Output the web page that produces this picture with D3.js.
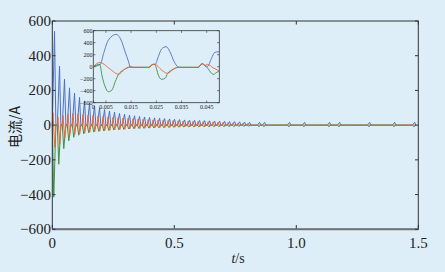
<!DOCTYPE html>
<html lang="zh">
<head>
<meta charset="UTF-8">
<title>电流</title>
<script src="https://d3js.org/d3.v7.min.js"></script>
<style>
    body { margin: 0; background: #ddeef9; }
    svg { display: block; background: #ddeef9; }
</style>
</head>
<body>
<script>
    // main chart: one pulse every `period` seconds, extreme values per pulse
    const period = 0.0205;
    const blueMax = [540,340,265,215,185,160,140,125,112,100,90,82,75,68,63,58,54,50,47,44,
        42,40,38,36,34,32,30,29,28,27,26,25,24,23,22,21,20,19,18,16,
        0,16,16,0,0,0,0,16,0,0,16,0,0,0,0,16,0,16,0,0,0,0,0,16,0,0,0,0,16,0,0,0,16];
    const greenMin = [-415,-225,-135,-90,-70,-58,-50,-44,-40,-36,-33,-30,-28,-26,-24,-22,-20,-19,-18,-17,
        -16,-15,-14,-13,-12,-12,-11,-11,-10,-10,-9,-9,-8,-8,-8,-7,-7,-6,-6,-5,
        0,-8,-8,0,0,0,0,-8,0,0,-8,0,0,0,0,-8,0,-8,0,0,0,0,0,-8,0,0,0,0,-8,0,0,0,-8];
    const orangeUp = [72,45,55,65,68,66,62,58,55,52,50,47,45,43,41,39,37,35,33,31,
        30,29,28,27,26,25,24,23,22,21,20,19,18,17,16,15,14,13,12,11,
        0,0,0,0,0,0,0,0,0,0,0,0,0,0,0,0,0,0,0,0,0,0,0,0,0,0,0,0,0,0,0,0,0];
    const orangeDown = [-128,-111,-75,-60,-52,-48,-44,-40,-37,-34,-32,-30,-28,-26,-24,-22,-20,-19,-18,-17,
        -16,-15,-14,-13,-12,-11,-10,-10,-9,-9,-8,-8,-7,-7,-6,-6,-5,-5,-4,-4,
        0,0,0,0,0,0,0,0,0,0,0,0,0,0,0,0,0,0,0,0,0,0,0,0,0,0,0,0,0,0,0,0,0];

    // inset: first 0.05 s, [t, value]
    const insetBlue = [[0,0],[0.0028,39],[0.0041,222],[0.006,444],[0.0091,539],[0.0113,417],[0.0126,250],
        [0.014,83],[0.0146,0],[0.016,-11],[0.0219,-11],[0.0238,40],[0.0245,39],[0.0258,167],[0.0271,294],
        [0.0289,333],[0.0304,250],[0.0321,83],[0.0335,0],[0.0345,-11],[0.0416,-11],[0.0432,50],[0.0443,20],
        [0.0453,5],[0.0469,139],[0.0482,239],[0.05,250]];
    const insetGreen = [[0,0],[0.0026,40],[0.0034,-139],[0.0047,-333],[0.006,-417],[0.0074,-389],[0.0087,-250],
        [0.010,-128],[0.012,-56],[0.0146,-5],[0.016,-11],[0.0219,-11],[0.0238,40],[0.0245,30],[0.0258,-139],
        [0.0271,-211],[0.0285,-194],[0.0295,-111],[0.0317,-44],[0.0337,-11],[0.0416,-11],[0.0432,50],
        [0.0443,20],[0.0453,-20],[0.0469,-110],[0.0476,-128],[0.0495,-83],[0.05,-80]];
    const insetOrange = [[0,0],[0.0026,72],[0.006,-17],[0.008,-83],[0.010,-128],[0.012,-56],[0.0146,-5],
        [0.016,-11],[0.0219,-11],[0.0238,40],[0.0245,39],[0.0271,-56],[0.0295,-111],[0.0317,-44],
        [0.0337,-11],[0.0416,-11],[0.0432,50],[0.0443,20],[0.0453,39],[0.0476,-20],[0.05,-72]];

    const yTicks = [600, 400, 200, 0, -200, -400, -600];
    const xTicks = [0, 0.5, 1.0, 1.5];
    const xTickLabels = ["0", "0.5", "1.0", "1.5"];
    const insetXTicks = [0, 0.005, 0.015, 0.025, 0.035, 0.045];
    const insetXTickLabels = ["0", "0.005", "0.015", "0.025", "0.035", "0.045"];

    const colors = { blue: "#4d6fc4", green: "#3e8f40", orange: "#e8693a" };
    const serif = "Liberation Serif";

    const width = 445, height = 272;
    const svg = d3.select("body").append("svg").attr("width", width).attr("height", height);

    const x = d3.scaleLinear().domain([0, 1.5]).range([52.3, 418.3]);
    const y = d3.scaleLinear().domain([-600, 600]).range([229.3, 21]);

    // build pulse points from the per-pulse extremes
    function pulsePoints(vals, offsets) {
        const pts = [];
        vals.forEach((v, k) => {
            const s = k * period;
            pts.push([s, 0]);
            v.forEach((val, j) => pts.push([s + offsets[j], val]));
            pts.push([s + 0.0146, 0]);
        });
        return pts;
    }
    const n = blueMax.length;
    const blueMain = pulsePoints(d3.range(n).map(k => [blueMax[k]]), [0.0091]);
    const greenMain = pulsePoints(d3.range(n).map(k => [greenMin[k]]), [0.006]);
    const orangeMain = pulsePoints(d3.range(n).map(k => [orangeUp[k], orangeDown[k]]), [0.0028, 0.010]);

    const line = d3.line().x(d => x(d[0])).y(d => y(d[1]));
    const main = svg.append("g");
    [[blueMain, colors.blue], [greenMain, colors.green], [orangeMain, colors.orange]].forEach(([d, c]) => {
        main.append("path").datum(d.filter(p => p[0] <= 1.5))
            .attr("d", line).attr("fill", "none").attr("stroke", c).attr("stroke-width", 1);
    });

    // frame
    svg.append("rect").attr("x", 52.3).attr("y", 21).attr("width", 366).attr("height", 208.3)
        .attr("fill", "none").attr("stroke", "#333").attr("stroke-width", 1);
    svg.append("line").attr("x1", 52.3).attr("x2", 418.3).attr("y1", 229.3).attr("y2", 229.3)
        .attr("stroke", "#6e7378").attr("stroke-width", 2);

    // ticks (inward, both sides)
    yTicks.forEach(t => {
        svg.append("line").attr("x1", 52.3).attr("x2", 55.5).attr("y1", y(t)).attr("y2", y(t)).attr("stroke", "#333");
        svg.append("line").attr("x1", 418.3).attr("x2", 415).attr("y1", y(t)).attr("y2", y(t)).attr("stroke", "#333");
        svg.append("text").attr("x", 51).attr("y", y(t) + 5).attr("text-anchor", "end")
            .attr("font-family", serif).attr("font-size", 15).attr("fill", "#222")
            .text(t < 0 ? "\u2212" + (-t) : t);
    });
    xTicks.forEach((t, i) => {
        svg.append("line").attr("x1", x(t)).attr("x2", x(t)).attr("y1", 228.5).attr("y2", 225).attr("stroke", "#333");
        svg.append("line").attr("x1", x(t)).attr("x2", x(t)).attr("y1", 21).attr("y2", 24.5).attr("stroke", "#333");
        svg.append("text").attr("x", x(t)).attr("y", 247.5).attr("text-anchor", "middle")
            .attr("font-family", serif).attr("font-size", 15).attr("fill", "#222")
            .text(xTickLabels[i]);
    });

    const xt = svg.append("text").attr("x", 238).attr("y", 263).attr("text-anchor", "middle")
        .attr("font-family", serif).attr("font-size", 14).attr("fill", "#222");
    xt.append("tspan").attr("font-style", "italic").text("t");
    xt.append("tspan").text("/s");

    svg.append("text").attr("transform", "translate(20,127) rotate(-90)").attr("text-anchor", "middle")
        .attr("font-family", "Noto Sans CJK SC").attr("font-size", 14).attr("fill", "#222")
        .text("电流/A");

    // inset
    const ix = d3.scaleLinear().domain([0, 0.05]).range([93.3, 219.3]);
    const iy = d3.scaleLinear().domain([-600, 600]).range([102.7, 30.7]);
    const ins = svg.append("g");
    ins.append("rect").attr("x", 93.3).attr("y", 30.7).attr("width", 126).attr("height", 72)
        .attr("fill", "#ddeef9").attr("stroke", "#333").attr("stroke-width", 0.8);
    const iline = d3.line().x(d => ix(d[0])).y(d => iy(d[1])).curve(d3.curveMonotoneX);
    [[insetBlue, colors.blue], [insetGreen, colors.green], [insetOrange, colors.orange]].forEach(([d, c]) => {
        ins.append("path").datum(d).attr("d", iline).attr("fill", "none")
            .attr("stroke", c).attr("stroke-width", 0.9);
    });
    yTicks.forEach(t => {
        ins.append("line").attr("x1", 93.3).attr("x2", 95.5).attr("y1", iy(t)).attr("y2", iy(t)).attr("stroke", "#333").attr("stroke-width", 0.6);
        ins.append("line").attr("x1", 219.3).attr("x2", 217).attr("y1", iy(t)).attr("y2", iy(t)).attr("stroke", "#333").attr("stroke-width", 0.6);
        ins.append("text").attr("x", 92.5).attr("y", iy(t) + 2).attr("text-anchor", "end")
            .attr("font-family", serif).attr("font-size", 6).attr("fill", "#222")
            .text(t < 0 ? "\u2212" + (-t) : t);
    });
    insetXTicks.forEach((t, i) => {
        ins.append("line").attr("x1", ix(t)).attr("x2", ix(t)).attr("y1", 102.7).attr("y2", 100.5).attr("stroke", "#333").attr("stroke-width", 0.6);
        ins.append("line").attr("x1", ix(t)).attr("x2", ix(t)).attr("y1", 30.7).attr("y2", 32.9).attr("stroke", "#333").attr("stroke-width", 0.6);
        ins.append("text").attr("x", ix(t)).attr("y", 109).attr("text-anchor", "middle")
            .attr("font-family", serif).attr("font-size", 6).attr("fill", "#222")
            .text(insetXTickLabels[i]);
    });
</script>
</body>
</html>
